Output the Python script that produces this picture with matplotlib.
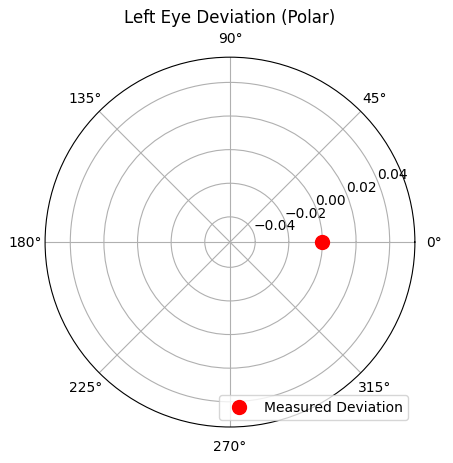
import numpy as np
import matplotlib
matplotlib.use("Agg")
from matplotlib import pyplot as plt

# measured deviation (angle in radians, magnitude)
theta = [0.0]
radius = [0.0]
label = "Measured Deviation"

fig = plt.figure(figsize=(4.53, 4.64), dpi=100)
ax = fig.add_axes([0.0993, 0.0776, 0.8168, 0.797], projection="polar")
ax.plot(theta, radius, "ro", markersize=10, label=label)
ax.set_title("Left Eye Deviation (Polar)")
ax.legend(loc="lower right")

fig.savefig("out.png", dpi=100)
